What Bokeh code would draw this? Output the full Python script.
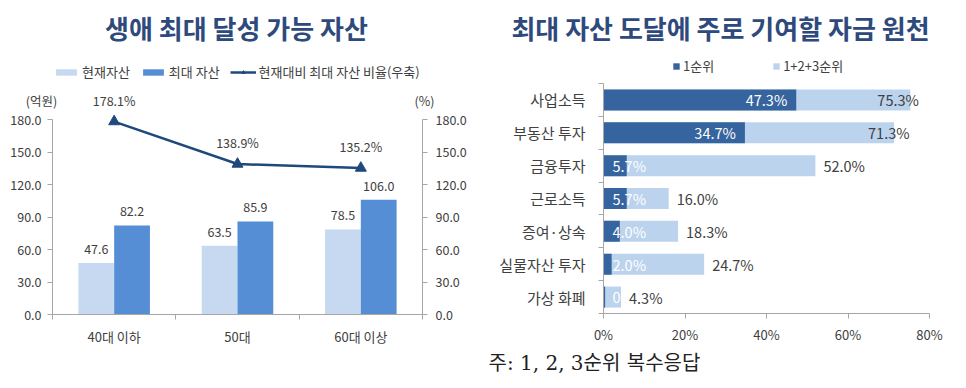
from bokeh.plotting import figure
from bokeh.models import (Range1d, LinearAxis, FixedTicker, ColumnDataSource, LabelSet, Label,
                          Legend, LegendItem, NumeralTickFormatter, PrintfTickFormatter)
from bokeh.layouts import row
from bokeh.embed import file_html
from bokeh.resources import INLINE
from bokeh.core.properties import value

FONT = "Noto Sans CJK KR"

# ---------------- data: left chart ----------------
age_groups = ["40대 이하", "50대", "60대 이상"]
current_assets = [47.6, 63.5, 78.5]
max_assets = [82.2, 85.9, 106.0]
max_ratio = [178.1, 138.9, 135.2]
left_ticks = [0, 30, 60, 90, 120, 150, 180]

# ---------------- data: right chart ----------------
sources = ["사업소득", "부동산 투자", "금융투자", "근로소득", "증여·상속", "실물자산 투자", "가상 화폐"]
rank1 = [47.3, 34.7, 5.7, 5.7, 4.0, 2.0, 0.4]
rank1_text = ["47.3%", "34.7%", "5.7%", "5.7%", "4.0%", "2.0%", "0"]
rank123 = [75.3, 71.3, 52.0, 16.0, 18.3, 24.7, 4.3]
pct_ticks = [0, 20, 40, 60, 80]

# ---------------- styles ----------------
C_LIGHT = "#C6D9F1"
C_DARK = "#558ED5"
C_LINE = "#1F497D"
C_R1 = "#35649E"
C_R123 = "#BCD3EE"
C_TITLE = "#2E4A7D"
C_TEXT = "#404040"
C_AXIS = "#A6A6A6"
H = 388
W1 = 480
W2 = 486


def scr_label(p, x, y, text, size, color=C_TEXT, align="left", bold=False, font=FONT):
    # x, y: pixels from the figure's top-left corner (frame fills the figure)
    p.add_layout(Label(x=x, y=H - y, x_units="screen", y_units="screen", text=text,
                       text_font=font, text_font_size=f"{size}px", text_color=color,
                       text_align=align, text_baseline="middle",
                       text_font_style="bold" if bold else "normal"))


def style_axis(ax, size):
    ax.axis_line_color = C_AXIS
    ax.major_tick_line_color = C_AXIS
    ax.minor_tick_line_color = C_AXIS
    ax.major_label_text_font = FONT
    ax.major_label_text_font_size = f"{size}px"
    ax.major_label_text_color = C_TEXT


# ================= LEFT =================
L_AX0, L_AX1, L_Y0, L_Y180 = 52, 422, 314, 119
ncat = len(age_groups)
px_cat = (L_AX1 - L_AX0) / ncat
px_val = (L_Y0 - L_Y180) / 180.0
xr1 = Range1d(-L_AX0 / px_cat, (W1 - L_AX0) / px_cat)
yr1 = Range1d(-(H - L_Y0) / px_val, L_Y0 / px_val)

p1 = figure(width=W1, height=H, output_backend="svg", toolbar_location=None,
            x_range=xr1, y_range=yr1, x_axis_location=None, y_axis_location=None,
            min_border=0)
p1.extra_y_ranges = {"pct": Range1d(yr1.start, yr1.end)}
p1.outline_line_color = None
p1.xgrid.visible = False
p1.ygrid.visible = False

xs = [i + 0.5 for i in range(ncat)]
BW = 0.29
src1 = ColumnDataSource(dict(
    x=xs, xc=[x - BW / 2 for x in xs], xm=[x + BW / 2 for x in xs],
    cur=current_assets, mx=max_assets, ratio=max_ratio,
    cur_t=[f"{v:.1f}" for v in current_assets], mx_t=[f"{v:.1f}" for v in max_assets],
    ratio_t=[f"{v:.1f}%" for v in max_ratio]))

r_cur = p1.vbar(x="xc", top="cur", width=BW, source=src1, fill_color=C_LIGHT, line_color=None)
r_max = p1.vbar(x="xm", top="mx", width=BW, source=src1, fill_color=C_DARK, line_color=None)
r_line = p1.line(x="x", y="ratio", source=src1, y_range_name="pct", line_color=C_LINE, line_width=2.5)
r_tri = p1.scatter(x="x", y="ratio", source=src1, y_range_name="pct", marker="triangle",
                   size=11, fill_color=C_LINE, line_color=C_LINE)

p1.add_layout(LabelSet(x="xc", y="cur", text="cur_t", source=src1,
                       text_font=value(FONT), text_font_size="12.5px", text_color=C_TEXT,
                       text_align="center", text_baseline="bottom", y_offset=9))
p1.add_layout(LabelSet(x="xm", y="mx", text="mx_t", source=src1,
                       text_font=value(FONT), text_font_size="12.5px", text_color=C_TEXT,
                       text_align="center", text_baseline="bottom", y_offset=9))
p1.add_layout(LabelSet(x="x", y="ratio", text="ratio_t", source=src1, y_range_name="pct",
                       text_font=value(FONT), text_font_size="12.5px", text_color=C_TEXT,
                       text_align="center", text_baseline="bottom", y_offset=12))

xa = LinearAxis(fixed_location=0, bounds=(0, ncat),
                ticker=FixedTicker(ticks=xs, minor_ticks=list(range(ncat + 1))))
xa.major_label_overrides = {x: g for x, g in zip(xs, age_groups)}
xa.major_tick_in = 0
xa.major_tick_out = 0
xa.minor_tick_in = 0
xa.minor_tick_out = 5
xa.major_label_standoff = 7
style_axis(xa, 13)
p1.add_layout(xa, "below")

ya = LinearAxis(fixed_location=0, bounds=(0, 180), ticker=FixedTicker(ticks=left_ticks),
                formatter=NumeralTickFormatter(format="0.0"))
ya_r = LinearAxis(fixed_location=ncat, bounds=(0, 180), y_range_name="pct",
                  ticker=FixedTicker(ticks=left_ticks), formatter=NumeralTickFormatter(format="0.0"))
for ax in (ya, ya_r):
    ax.major_tick_in = 0
    ax.major_tick_out = 5
    ax.minor_tick_out = 0
    ax.minor_tick_in = 0
    style_axis(ax, 12.5)
ya.major_label_standoff = 6
ya_r.major_label_standoff = 8
p1.add_layout(ya, "left")
p1.add_layout(ya_r, "right")

leg1 = Legend(items=[LegendItem(label="현재자산", renderers=[r_cur]),
                     LegendItem(label="최대 자산", renderers=[r_max]),
                     LegendItem(label="현재대비 최대 자산 비율(우축)", renderers=[r_line, r_tri])],
              orientation="horizontal", location=(53, H - 81),
              glyph_width=26, glyph_height=8, label_standoff=3, spacing=10,
              padding=0, margin=0, border_line_color=None, background_fill_alpha=0,
              label_text_font=FONT, label_text_font_size="13px", label_text_color=C_TEXT)
p1.add_layout(leg1, "center")

scr_label(p1, 236, 27, "생애 최대 달성 가능 자산", 26, C_TITLE, "center", True)
scr_label(p1, 41, 100, "(억원)", 12.5, C_TEXT, "center")
scr_label(p1, 424, 100, "(%)", 12.5, C_TEXT, "center")

# ================= RIGHT =================
n = len(sources)
R_AX0, R_AX80, R_YB, R_YT = 123, 449, 313, 83
px_pct = (R_AX80 - R_AX0) / 80.0
px_row = (R_YB - R_YT) / n
xr2 = Range1d(-R_AX0 / px_pct, (W2 - R_AX0) / px_pct)
yr2 = Range1d(-(H - R_YB) / px_row, R_YB / px_row)

p2 = figure(width=W2, height=H, output_backend="svg", toolbar_location=None,
            x_range=xr2, y_range=yr2, x_axis_location=None, y_axis_location=None,
            min_border=0)
p2.outline_line_color = None
p2.xgrid.visible = False
p2.ygrid.visible = False

ys = [n - 0.5 - i for i in range(n)]
big = [v >= 20 for v in rank1]
total_nudge = [-33, -26, 8, 8, 8, 8, 8]
src2 = ColumnDataSource(dict(y=ys, r1=rank1, tot=rank123))
src2_big = ColumnDataSource(dict(y=[y for y, b in zip(ys, big) if b],
                                 x=[v for v, b in zip(rank1, big) if b],
                                 t=[t for t, b in zip(rank1_text, big) if b]))
src2_small = ColumnDataSource(dict(y=[y for y, b in zip(ys, big) if not b],
                                   x=[0 for b in big if not b],
                                   t=[t for t, b in zip(rank1_text, big) if not b]))

BH = 0.64
r_123 = p2.hbar(y="y", left=0, right="tot", height=BH, source=src2, fill_color=C_R123, line_color=None)
r_1 = p2.hbar(y="y", left=0, right="r1", height=BH, source=src2, fill_color=C_R1, line_color=None)

p2.add_layout(LabelSet(x="x", y="y", text="t", source=src2_big, text_font=value(FONT),
                       text_font_size="14.5px", text_color="white", text_align="right",
                       text_baseline="middle", x_offset=-9))
p2.add_layout(LabelSet(x="x", y="y", text="t", source=src2_small, text_font=value(FONT),
                       text_font_size="14.5px", text_color="white", text_align="left",
                       text_baseline="middle", x_offset=9))
for i in range(n):
    p2.add_layout(Label(x=rank123[i], y=ys[i], text=f"{rank123[i]:.1f}%", x_offset=total_nudge[i],
                        text_font=FONT, text_font_size="14.5px", text_color=C_TEXT,
                        text_align="left", text_baseline="middle"))

xa2 = LinearAxis(fixed_location=0, bounds=(0, 80), ticker=FixedTicker(ticks=pct_ticks),
                 formatter=PrintfTickFormatter(format="%d%%"))
xa2.major_tick_in = 0
xa2.major_tick_out = 5
xa2.minor_tick_in = 0
xa2.minor_tick_out = 0
xa2.major_label_standoff = 6
style_axis(xa2, 13)
p2.add_layout(xa2, "below")

ya2 = LinearAxis(fixed_location=0, bounds=(0, n),
                 ticker=FixedTicker(ticks=ys, minor_ticks=list(range(n + 1))))
ya2.major_label_overrides = {y: s for y, s in zip(ys, sources)}
ya2.major_tick_in = 0
ya2.major_tick_out = 0
ya2.minor_tick_in = 0
ya2.minor_tick_out = 5
ya2.major_label_standoff = 13
style_axis(ya2, 15)
p2.add_layout(ya2, "left")

leg2 = Legend(items=[LegendItem(label="1순위", renderers=[r_1]),
                     LegendItem(label="1+2+3순위", renderers=[r_123])],
              orientation="horizontal", location=(192, H - 75),
              glyph_width=8, glyph_height=8, label_standoff=3, spacing=58,
              padding=0, margin=0, border_line_color=None, background_fill_alpha=0,
              label_text_font=FONT, label_text_font_size="13px", label_text_color=C_TEXT)
p2.add_layout(leg2, "center")

scr_label(p2, 240, 27, "최대 자산 도달에 주로 기여할 자금 원천", 26, C_TITLE, "center", True)
scr_label(p2, 8, 362, "주: 1, 2, 3순위 복수응답", 20, "#222222", "left",
          font="DejaVu Serif, Noto Sans CJK KR")

layout = row(p1, p2)
open("out.html", "w").write(file_html(layout, INLINE))
